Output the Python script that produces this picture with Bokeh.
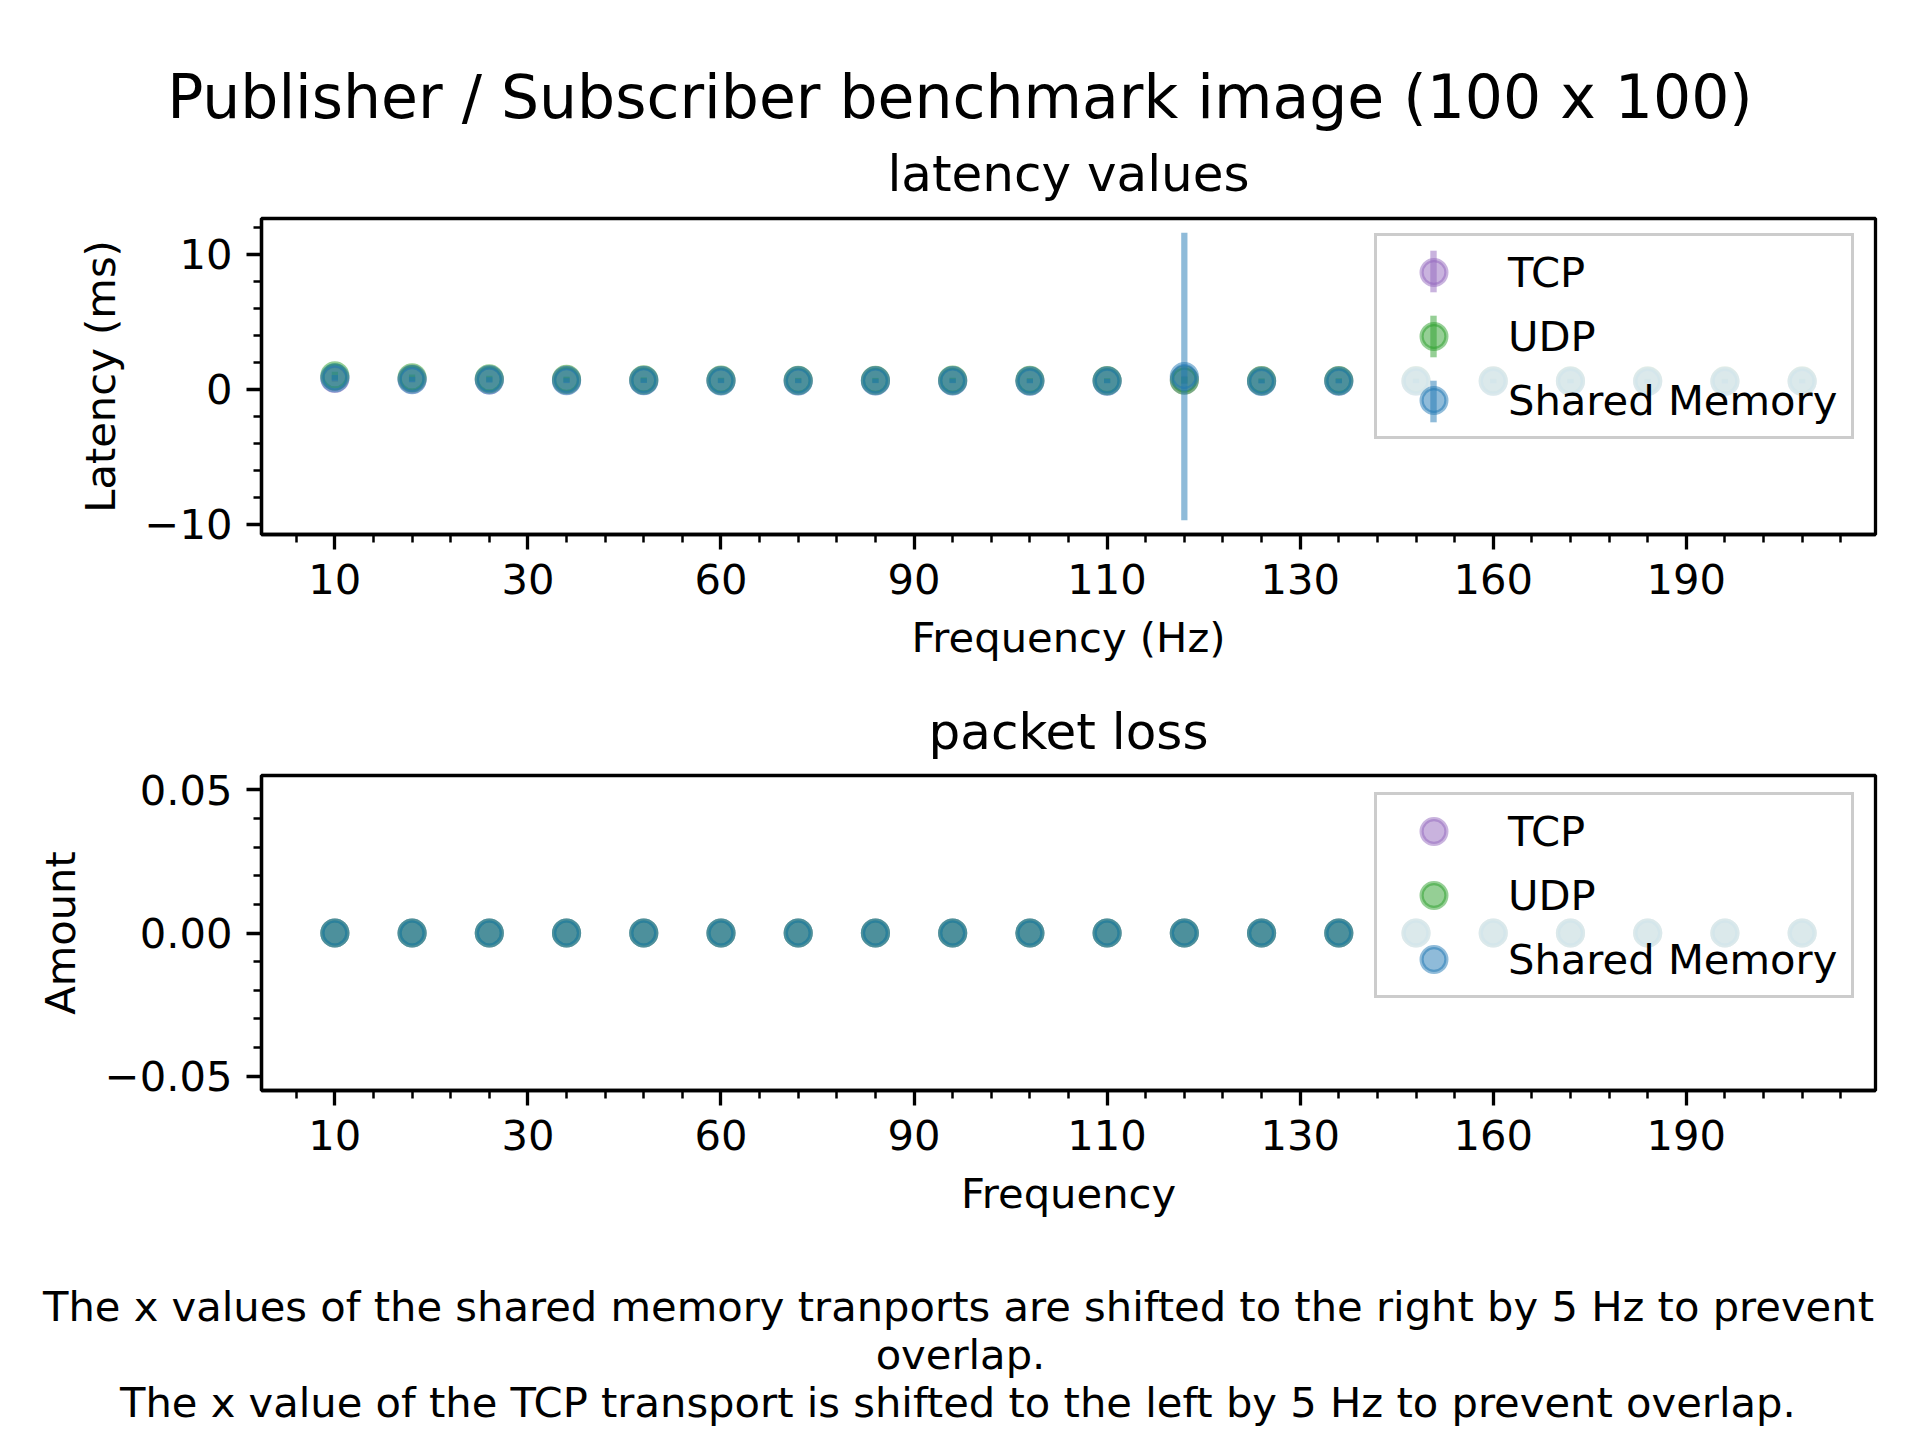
from bokeh.plotting import figure
from bokeh.models import (ColumnDataSource, FixedTicker, Range1d, Legend,
                          LegendItem, Title)
from bokeh.layouts import column
from bokeh.embed import file_html
from bokeh.resources import INLINE

# ---------------- data ----------------
frequencies = [10, 20, 30, 40, 50, 60, 70, 80, 90, 100,
               110, 120, 130, 140, 150, 160, 170, 180, 190, 200]
series_names = ["TCP", "UDP", "Shared Memory"]
series_colors = ["#9467bd", "#2ca02c", "#1f77b4"]

tcp_latency = [0.80, 0.75, 0.70, 0.68, 0.66, 0.65, 0.64, 0.64, 0.64, 0.63,
               0.63, 0.70, 0.62, 0.63, 0.62, 0.62, 0.61, 0.61, 0.61, 0.61]
udp_latency = [1.00, 0.85, 0.78, 0.74, 0.70, 0.68, 0.67, 0.67, 0.68, 0.66,
               0.65, 0.68, 0.64, 0.65, 0.64, 0.63, 0.63, 0.63, 0.62, 0.62]
shm_latency = [0.85, 0.72, 0.70, 0.64, 0.64, 0.63, 0.62, 0.62, 0.62, 0.61,
               0.61, 0.95, 0.58, 0.60, 0.60, 0.59, 0.59, 0.58, 0.58, 0.58]
tcp_latency_std = [0.25, 0.22, 0.20, 0.20, 0.18, 0.18, 0.18, 0.17, 0.17, 0.17,
                   0.17, 0.30, 0.16, 0.17, 0.16, 0.16, 0.16, 0.16, 0.16, 0.16]
udp_latency_std = [0.30, 0.24, 0.22, 0.20, 0.19, 0.18, 0.18, 0.18, 0.18, 0.17,
                   0.17, 0.25, 0.17, 0.17, 0.16, 0.16, 0.16, 0.16, 0.16, 0.16]
shm_latency_std = [0.22, 0.20, 0.19, 0.18, 0.17, 0.17, 0.16, 0.16, 0.16, 0.16,
                   0.16, 10.65, 0.15, 0.16, 0.15, 0.15, 0.15, 0.15, 0.15, 0.15]

tcp_loss = [0, 0, 0, 0, 0, 0, 0, 0, 0, 0, 0, 0, 0, 0, 0, 0, 0, 0, 0, 0]
udp_loss = [0, 0, 0, 0, 0, 0, 0, 0, 0, 0, 0, 0, 0, 0, 0, 0, 0, 0, 0, 0]
shm_loss = [0, 0, 0, 0, 0, 0, 0, 0, 0, 0, 0, 0, 0, 0, 0, 0, 0, 0, 0, 0]

x_tick_values = [10, 35, 60, 85, 110, 135, 160, 185]
x_tick_labels = ["10", "30", "60", "90", "110", "130", "160", "190"]
lat_tick_values = [-10, 0, 10]
lat_tick_labels = ["\u221210", "0", "10"]
loss_tick_values = [-0.05, 0, 0.05]
loss_tick_labels = ["\u22120.05", "0.00", "0.05"]

suptitle = "Publisher / Subscriber benchmark image (100 x 100)"
footer_lines = [
    "The x values of the shared memory tranports are shifted to the right by 5 Hz to prevent",
    "overlap.",
    "The x value of the TCP transport is shifted to the left by 5 Hz to prevent overlap.",
]

# ---------------- layout / style constants ----------------
FONT = "DejaVu Sans"
TICK_PX = 41.67
TICK_FS = "41.67px"
TITLE_FS = "50px"
SUP_PX = 60
W = 1920
FRAME_LEFT = 261
FRAME_RIGHT_GAP = 45

# DejaVu Sans advance widths (font units, 2048 per em), used to centre
# the figure-wide texts on the page rather than on the plot frame
ADV = {" ": 651, ".": 651, "/": 690, "(": 799, ")": 799, "C": 1430,
       "H": 1540, "P": 1235, "S": 1300, "T": 1251, "a": 1255, "b": 1300,
       "c": 1126, "d": 1300, "e": 1260, "f": 721, "g": 1300, "h": 1298,
       "i": 569, "k": 1186, "l": 569, "m": 1995, "n": 1298, "o": 1253,
       "p": 1300, "r": 842, "s": 1067, "t": 803, "u": 1298, "v": 1212,
       "x": 1212, "y": 1212, "z": 1075}


def page_center_offset(text, px):
    w = sum(ADV.get(c, 1303) for c in text) / 2048.0 * px
    return W / 2.0 - w / 2.0 - FRAME_LEFT


x_minor = [v for v in range(5, 210, 5) if v not in x_tick_values]
fmin, fmax = min(frequencies), max(frequencies)
fpad = 0.05 * (fmax - fmin)
x_range_vals = (fmin - fpad, fmax + fpad)


def style_axes(p, xlabel, ylabel, yticks, ylabels, yminor):
    p.grid.visible = False
    p.background_fill_color = "white"
    p.border_fill_color = "white"
    p.outline_line_color = "black"
    p.outline_line_width = 3.3
    p.outline_line_alpha = 1.0
    p.xaxis.ticker = FixedTicker(ticks=x_tick_values, minor_ticks=x_minor)
    p.xaxis.major_label_overrides = dict(zip(x_tick_values, x_tick_labels))
    p.yaxis.ticker = FixedTicker(ticks=yticks, minor_ticks=yminor)
    p.yaxis.major_label_overrides = dict(zip(yticks, ylabels))
    p.xaxis.axis_label = xlabel
    p.yaxis.axis_label = ylabel
    for ax in (p.xaxis[0], p.yaxis[0]):
        ax.axis_line_width = 3.3
        ax.axis_line_color = "black"
        ax.major_tick_line_width = 3.3
        ax.minor_tick_line_width = 2.5
        ax.major_tick_out = 15
        ax.major_tick_in = 0
        ax.minor_tick_out = 8
        ax.minor_tick_in = 0
        ax.major_label_text_font = FONT
        ax.major_label_text_font_size = TICK_FS
        ax.major_label_text_color = "black"
        ax.major_label_standoff = 14
        ax.axis_label_text_font = FONT
        ax.axis_label_text_font_size = TICK_FS
        ax.axis_label_text_font_style = "normal"
        ax.axis_label_text_color = "black"
    p.xaxis.axis_label_standoff = 16
    p.yaxis.axis_label_standoff = 17


def make_legend(items, y):
    return Legend(items=items, location=(1113, y), margin=0,
                  padding=5, spacing=2, glyph_width=103, glyph_height=62,
                  label_standoff=23, label_width=338, label_height=40,
                  label_text_font=FONT, label_text_font_size=TICK_FS,
                  label_text_color="black",
                  border_line_color="#cccccc", border_line_width=3.3,
                  border_line_alpha=1.0,
                  background_fill_color="white", background_fill_alpha=0.8)


def make_bar_legend(item, y):
    # transparent one-item legend carrying only the vertical error-bar
    # handle, drawn over the marker handle of the main legend
    return Legend(items=[item], location=(1168, y), margin=0,
                  padding=0, spacing=0, glyph_width=8, glyph_height=52,
                  label_standoff=0, label_width=0, label_height=0,
                  label_text_font=FONT, label_text_font_size="1px",
                  border_line_color=None, background_fill_color=None,
                  background_fill_alpha=0)


def page_title(text, px, standoff, fs=None):
    return Title(text=text, align="left",
                 offset=page_center_offset(text, px),
                 text_font=FONT, text_font_size=fs or f"{px}px",
                 text_font_style="normal", text_color="black",
                 standoff=standoff)


# ---------------- top: latency ----------------
lat_series = [(tcp_latency, tcp_latency_std), (udp_latency, udp_latency_std),
              (shm_latency, shm_latency_std)]
lows = [m - s for ys, ss in lat_series for m, s in zip(ys, ss)]
highs = [m + s for ys, ss in lat_series for m, s in zip(ys, ss)]
ypad = 0.05 * (max(highs) - min(lows))

p1 = figure(width=W, height=684, output_backend="svg", toolbar_location=None,
            x_range=Range1d(*x_range_vals),
            y_range=Range1d(min(lows) - ypad, max(highs) + ypad),
            min_border_left=FRAME_LEFT, min_border_right=FRAME_RIGHT_GAP,
            min_border_top=218, min_border_bottom=150)
style_axes(p1, "Frequency (Hz)", "Latency (ms)", lat_tick_values,
           lat_tick_labels, [-8, -6, -4, -2, 2, 4, 6, 8, 12])

lat_items, bar_items = [], []
for name, color, (ys, ss) in zip(series_names, series_colors, lat_series):
    src = ColumnDataSource(dict(
        x=frequencies, y=ys,
        lo=[m - s for m, s in zip(ys, ss)],
        hi=[m + s for m, s in zip(ys, ss)]))
    p1.segment(x0="x", y0="lo", x1="x", y1="hi", source=src,
               line_color=color, line_alpha=0.5, line_width=6.25)
    circ = p1.scatter(x="x", y="y", source=src, marker="circle", size=25,
                      fill_color=color, fill_alpha=0.5,
                      line_color=color, line_alpha=0.5, line_width=4.17)
    # zero-size bars: nothing drawn in the plot, used as the legend's
    # vertical error-bar handle
    bar = p1.vbar(x="x", top="y", bottom="y", width=0, source=src,
                  fill_color=color, fill_alpha=0.5, line_color=None)
    lat_items.append(LegendItem(label=name, renderers=[circ]))
    bar_items.append(LegendItem(label=" ", renderers=[bar], index=0))

p1.add_layout(make_legend(lat_items, 95))
for item, yb in zip(bar_items, [237, 172, 107]):
    p1.add_layout(make_bar_legend(item, yb))
p1.add_layout(Title(text="latency values", align="center", text_font=FONT,
                    text_font_size=TITLE_FS, text_font_style="normal",
                    text_color="black", standoff=31), "above")
p1.add_layout(page_title(suptitle, SUP_PX, -9), "above")

# ---------------- bottom: packet loss ----------------
p2 = figure(width=W, height=556, output_backend="svg", toolbar_location=None,
            x_range=Range1d(*x_range_vals), y_range=Range1d(-0.055, 0.055),
            min_border_left=FRAME_LEFT, min_border_right=FRAME_RIGHT_GAP,
            min_border_top=91, min_border_bottom=150)
style_axes(p2, "Frequency", "Amount", loss_tick_values, loss_tick_labels,
           [-0.04, -0.03, -0.02, -0.01, 0.01, 0.02, 0.03, 0.04])

loss_items = []
for name, color, ys in zip(series_names, series_colors,
                           [tcp_loss, udp_loss, shm_loss]):
    src = ColumnDataSource(dict(x=frequencies, y=ys))
    circ = p2.scatter(x="x", y="y", source=src, marker="circle", size=25,
                      fill_color=color, fill_alpha=0.5,
                      line_color=color, line_alpha=0.5, line_width=4.17)
    loss_items.append(LegendItem(label=name, renderers=[circ]))

p2.add_layout(make_legend(loss_items, 92))
p2.add_layout(Title(text="packet loss", align="center", text_font=FONT,
                    text_font_size=TITLE_FS, text_font_style="normal",
                    text_color="black", standoff=30), "above")

# ---------------- footer note (own strip, titles stacked upward) ----------
p3 = figure(width=W, height=200, output_backend="svg", toolbar_location=None,
            x_axis_location=None, y_axis_location=None,
            x_range=Range1d(0, 1), y_range=Range1d(0, 1),
            min_border_left=FRAME_LEFT, min_border_right=FRAME_RIGHT_GAP,
            min_border_top=190, min_border_bottom=0)
p3.grid.visible = False
p3.outline_line_color = None
p3.background_fill_color = "white"
p3.border_fill_color = "white"
for line, so in zip(reversed(footer_lines), [8, -14, 8]):
    p3.add_layout(page_title(line, TICK_PX, so, TICK_FS), "above")

layout = column(p1, p2, p3, spacing=0)
open("out.html", "w").write(file_html(layout, INLINE))
